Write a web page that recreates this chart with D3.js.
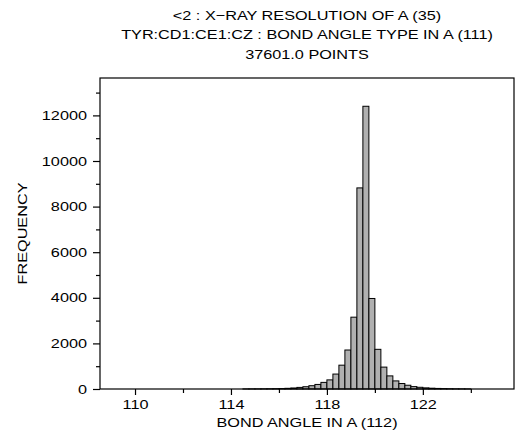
<!DOCTYPE html>
<html><head><meta charset="utf-8">
<script src="https://cdn.jsdelivr.net/npm/d3@7"></script>
<style>body{margin:0;background:#fff}svg{display:block}text{font-family:"Liberation Sans",Arial,sans-serif;fill:#000}</style>
</head><body><svg id="c" width="516" height="436"></svg>
<script>
const titleLines = ["<2 : X\u2212RAY RESOLUTION OF A (35)", "TYR:CD1:CE1:CZ : BOND ANGLE TYPE IN A (111)", "37601.0 POINTS"];
const xLabel = "BOND ANGLE IN A (112)";
const yLabel = "FREQUENCY";
const binStarts = [114.5, 114.75, 115.0, 115.25, 115.5, 115.75,
  116.0, 116.25, 116.5, 116.75, 117.0, 117.25, 117.5, 117.75, 118.0, 118.25, 118.5, 118.75, 119.0, 119.25, 119.5,
  119.75, 120.0, 120.25, 120.5, 120.75, 121.0, 121.25, 121.5, 121.75, 122.0, 122.25, 122.5, 122.75, 123.0, 123.25,
  123.5, 123.75];
const counts = [4, 5, 6, 8, 11, 15,
  20, 30, 45, 70, 100, 145, 200, 290, 400, 655, 1045, 1710, 3150, 8820, 12400,
  3970, 1740, 960, 575, 355, 240, 165, 105, 75, 50, 35, 25, 18, 12, 8,
  6, 4];
const binWidth = 0.25;
const xMajor = [110, 114, 118, 122];
const xMinor = [112, 116, 120, 124];
const yMajor = [0, 2000, 4000, 6000, 8000, 10000, 12000];
const yMinor = [1000, 3000, 5000, 7000, 9000, 11000, 13000];

const L = 100, R = 514, T = 78, B = 389;
const svg = d3.select("#c");
const x = d3.scaleLinear().domain([108.54, 125.8]).range([L, R]);
const y = d3.scaleLinear().domain([0, d3.max(counts) * 1.1]).range([B, T]);
const data = binStarts.map((s, i) => ({s, c: counts[i]}));
const SX = 1.25;

// bars
svg.append("g").selectAll("rect").data(data).join("rect")
  .attr("x", d => x(d.s)).attr("width", d => x(d.s + binWidth) - x(d.s))
  .attr("y", d => y(d.c)).attr("height", d => B - y(d.c))
  .attr("fill", "#b0b0b0").attr("stroke", "#000").attr("stroke-width", 1);

// frame
svg.append("rect").attr("x", L).attr("y", T).attr("width", R - L).attr("height", B - T)
  .attr("fill", "none").attr("stroke", "#000").attr("stroke-width", 1.2);

// y axis
const ya = svg.append("g").attr("transform", `translate(${L},0)`)
  .call(d3.axisLeft(y).tickValues(yMajor).tickSize(7).tickPadding(6).tickFormat(d3.format("d")));
ya.select(".domain").remove();
ya.selectAll("text").attr("font-size", 13).attr("font-family", "Liberation Sans, Arial, sans-serif")
  .each(function(){ const t = d3.select(this); const xx = +t.attr("x"); t.attr("x", null).attr("transform", `translate(${xx},0) scale(${SX},1)`); });
svg.append("g").attr("transform", `translate(${L},0)`)
  .call(d3.axisLeft(y).tickValues(yMinor).tickSize(4).tickFormat(""))
  .select(".domain").remove();

// x axis
const xa = svg.append("g").attr("transform", `translate(0,${B})`)
  .call(d3.axisBottom(x).tickValues(xMajor).tickSize(6).tickPadding(5).tickFormat(d3.format("d")));
xa.select(".domain").remove();
xa.selectAll("text").attr("font-size", 13).attr("font-family", "Liberation Sans, Arial, sans-serif")
  .each(function(){ const t = d3.select(this); const yy = +t.attr("y"); t.attr("y", null).attr("transform", `translate(0,${yy}) scale(${SX},1)`); });
svg.append("g").attr("transform", `translate(0,${B})`)
  .call(d3.axisBottom(x).tickValues(xMinor).tickSize(4).tickFormat(""))
  .select(".domain").remove();
svg.selectAll(".tick line").attr("stroke", "#000").attr("stroke-width", 1.2);

// titles
const cx = (L + R) / 2;
titleLines.forEach((t, i) => {
  svg.append("text").attr("transform", `translate(${cx},${20 + i * 19.3}) scale(${SX},1)`)
    .attr("text-anchor", "middle").attr("font-size", 13).text(t);
});
svg.append("text").attr("transform", `translate(${cx},427) scale(${SX},1)`)
  .attr("text-anchor", "middle").attr("font-size", 13).text(xLabel);
svg.append("text").attr("transform", `translate(26.5,${(T + B) / 2}) rotate(-90) scale(${SX},1)`)
  .attr("text-anchor", "middle").attr("font-size", 13).text(yLabel);
</script></body></html>
